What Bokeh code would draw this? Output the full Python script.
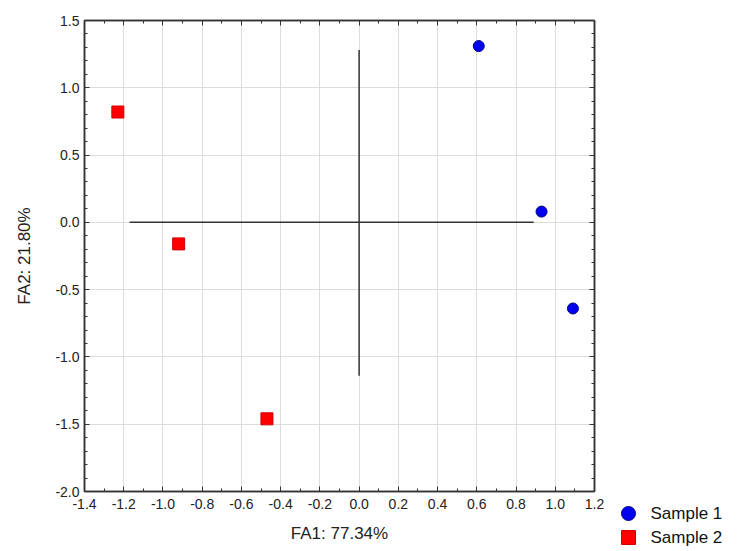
from bokeh.plotting import figure
from bokeh.layouts import row
from bokeh.models import (Range1d, FixedTicker, PrintfTickFormatter, LinearAxis,
                          CustomJSTickFormatter)
from bokeh.core.properties import value
from bokeh.embed import file_html
from bokeh.resources import INLINE

# ---- data ----
s1_x = [0.61, 0.93, 1.09]
s1_y = [1.31, 0.08, -0.64]
s2_x = [-1.23, -0.92, -0.47]
s2_y = [0.82, -0.16, -1.46]
hline_x = [-1.17, 0.89]
vline_y = [-1.14, 1.28]
x_ticks = [-1.4, -1.2, -1.0, -0.8, -0.6, -0.4, -0.2, 0.0, 0.2, 0.4, 0.6, 0.8, 1.0, 1.2]
x_minor = [-1.3, -1.1, -0.9, -0.7, -0.5, -0.3, -0.1, 0.1, 0.3, 0.5, 0.7, 0.9, 1.1]
y_ticks = [-2.0, -1.5, -1.0, -0.5, 0.0, 0.5, 1.0, 1.5]
y_minor = [-1.9, -1.8, -1.7, -1.6, -1.4, -1.3, -1.2, -1.1, -0.9, -0.8, -0.7, -0.6,
           -0.4, -0.3, -0.2, -0.1, 0.1, 0.2, 0.3, 0.4, 0.6, 0.7, 0.8, 0.9,
           1.1, 1.2, 1.3, 1.4]
x_label = "FA1: 77.34%"
y_label = "FA2: 21.80%"
legend_labels = ["Sample 1", "Sample 2"]

FONT = "Liberation Sans"
DARK = "#333333"
BLUE_FILL, BLUE_LINE = "#0000EE", "#00008B"
RED_FILL, RED_LINE = "#FF0000", "#D00000"

p = figure(title=None, frame_width=510, frame_height=471,
           min_border_left=84, min_border_top=20, min_border_right=10, min_border_bottom=10,
           x_range=Range1d(-1.4, 1.2), y_range=Range1d(-2.0, 1.5),
           output_backend="svg", toolbar_location=None, tools="")

xt = FixedTicker(ticks=x_ticks, minor_ticks=x_minor)
yt = FixedTicker(ticks=y_ticks, minor_ticks=y_minor)

bottom_ax = p.below[0]
left_ax = p.left[0]
bottom_ax.ticker = xt
left_ax.ticker = yt
bottom_ax.formatter = PrintfTickFormatter(format="%.1f")
left_ax.formatter = PrintfTickFormatter(format="%.1f")

top_ax = LinearAxis(ticker=xt, formatter=CustomJSTickFormatter(code="return ''"),
                    major_label_standoff=0)
right_ax = LinearAxis(ticker=yt, formatter=CustomJSTickFormatter(code="return ''"),
                      major_label_standoff=0)
p.add_layout(top_ax, "above")
p.add_layout(right_ax, "right")

for ax in (bottom_ax, left_ax, top_ax, right_ax):
    ax.axis_line_color = DARK
    ax.axis_line_width = 1.5
    ax.major_tick_in = 5
    ax.major_tick_out = 0
    ax.minor_tick_in = 3
    ax.minor_tick_out = 0
    ax.major_tick_line_color = DARK
    ax.minor_tick_line_color = DARK
    ax.major_label_text_font = FONT
    ax.major_label_text_font_size = "14px"
    ax.major_label_text_color = "#222222"

bottom_ax.major_label_standoff = 7
left_ax.major_label_standoff = 5

bottom_ax.axis_label = x_label
left_ax.axis_label = y_label
for ax in (bottom_ax, left_ax):
    ax.axis_label_text_font = FONT
    ax.axis_label_text_font_size = "17px"
    ax.axis_label_text_font_style = "normal"
    ax.axis_label_text_color = "#222222"
bottom_ax.axis_label_standoff = 12
left_ax.axis_label_standoff = 18

p.outline_line_color = DARK
p.outline_line_width = 1.5
p.xgrid.ticker = xt
p.ygrid.ticker = yt
p.grid.grid_line_color = "#dcdcdc"
p.grid.grid_line_width = 1

# cross lines
p.line(x=hline_x, y=[0, 0], line_color=DARK, line_width=1.5)
p.line(x=[0, 0], y=vline_y, line_color=DARK, line_width=1.5)

p.scatter(s1_x, s1_y, marker="circle", size=11, fill_color=BLUE_FILL, line_color=BLUE_LINE)
p.scatter(s2_x, s2_y, marker="square", size=12, fill_color=RED_FILL, line_color=RED_LINE)

# legend panel: a separate canvas to the right of the plot, in pixel units
# (the row aligns its frame top with the main frame top, 20 px down)
LF_W, LF_H = 141, 551
lf = figure(title=None, frame_width=LF_W, frame_height=LF_H, min_border=0,
            x_axis_location=None, y_axis_location=None,
            x_range=Range1d(0, LF_W), y_range=Range1d(LF_H, 0),
            output_backend="svg", toolbar_location=None, tools="",
            outline_line_color=None)
lf.grid.visible = False
swatch_x, text_x = 24, 46
row_y = [493, 517]          # pixel rows from the top of the legend frame
lf.scatter(x=[swatch_x], y=[row_y[0]], marker="circle", size=14,
           fill_color=BLUE_FILL, line_color=BLUE_LINE)
lf.scatter(x=[swatch_x], y=[row_y[1]], marker="square", size=14,
           fill_color=RED_FILL, line_color=RED_LINE)
lf.text(x=[text_x, text_x], y=row_y, text=legend_labels,
        text_font=value(FONT), text_font_size="17px", text_color="#111111",
        text_baseline="middle", text_align="left")

layout = row(p, lf)
open("out.html", "w").write(file_html(layout, INLINE))
